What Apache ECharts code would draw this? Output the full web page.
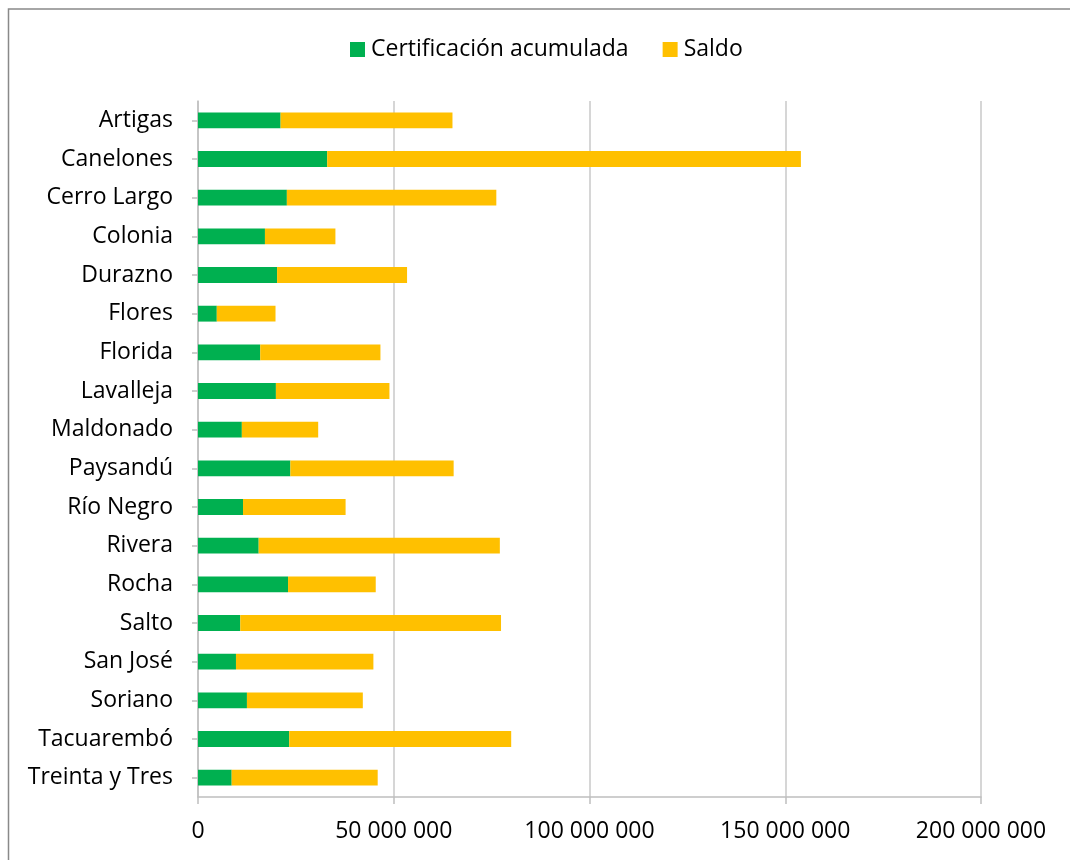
<!DOCTYPE html>
<html>
<head>
<meta charset="utf-8">
<script src="https://cdn.jsdelivr.net/npm/echarts@6/dist/echarts.min.js"></script>
<style>
html,body{margin:0;padding:0;background:#fff;}
#c{width:1070px;height:860px;}
</style>
</head>
<body>
<div id="c"></div>
<script>
const categories = ["Artigas","Canelones","Cerro Largo","Colonia","Durazno","Flores","Florida","Lavalleja","Maldonado","Paysandú","Río Negro","Rivera","Rocha","Salto","San José","Soriano","Tacuarembó","Treinta y Tres"];
const certificacion = [21100000,33000000,22700000,17100000,20200000,4800000,15900000,19900000,11200000,23600000,11500000,15500000,23000000,10800000,9700000,12500000,23300000,8600000];
const saldo = [43900000,121000000,53500000,18000000,33200000,15000000,30700000,29000000,19500000,41700000,26200000,61600000,22400000,66600000,35100000,29600000,56700000,37300000];
const xTicks = [0,50000000,100000000,150000000,200000000];

const font = 'Open Sans';
const fs = 23;
const fmt = v => String(Math.round(v)).replace(/\B(?=(\d{3})+(?!\d))/g, ' ');

const chart = echarts.init(document.getElementById('c'), null, {renderer:'canvas'});
chart.setOption({
  animation:false,
  backgroundColor:'#fff',
  textStyle:{fontFamily:font},
  graphic:[{type:'rect',shape:{x:8.5,y:9,width:1080,height:880},style:{fill:'none',stroke:'#898989',lineWidth:1.5},silent:true}],
  legend:{
    top:38, left:350, padding:0,
    itemWidth:15, itemHeight:15, itemGap:34,
    icon:'rect',
    textStyle:{fontFamily:font,fontSize:fs,color:'#000',padding:[2,0,0,1]},
    data:['Certificación acumulada','Saldo']
  },
  grid:{left:198,right:89,top:101,bottom:63,containLabel:false},
  xAxis:{
    type:'value', min:xTicks[0], max:xTicks[xTicks.length-1], interval:50000000,
    axisLine:{show:true,lineStyle:{color:'#BFBFBF',width:1.5}},
    axisTick:{show:true,length:7,lineStyle:{color:'#BFBFBF',width:1.5}},
    splitLine:{show:true,lineStyle:{color:'#C8C8C8',width:1.5}},
    axisLabel:{fontFamily:font,fontSize:fs,color:'#000',margin:23,formatter:fmt}
  },
  yAxis:{
    type:'category', data:categories, inverse:true,
    axisLine:{show:true,lineStyle:{color:'#BFBFBF',width:1.5}},
    axisTick:{show:true,length:6,alignWithLabel:true,lineStyle:{color:'#BFBFBF',width:1.5}},
    axisLabel:{fontFamily:font,fontSize:fs,color:'#000',margin:25,padding:[5,0,0,0]}
  },
  series:[
    {name:'Certificación acumulada',type:'bar',stack:'t',data:certificacion,itemStyle:{color:'#00B050'},barCategoryGap:'59%'},
    {name:'Saldo',type:'bar',stack:'t',data:saldo,itemStyle:{color:'#FFC000'},barCategoryGap:'59%'}
  ]
});
</script>
</body>
</html>
